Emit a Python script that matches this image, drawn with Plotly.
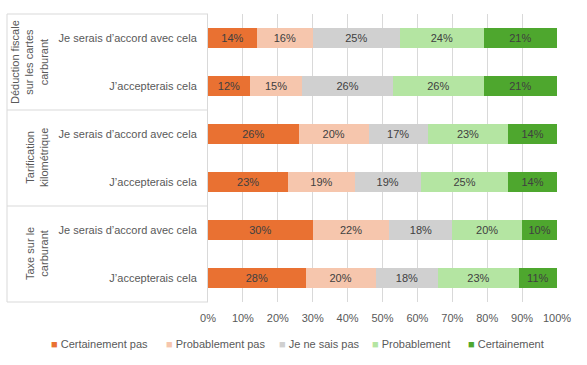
import plotly.graph_objects as go

groups = ["Déduction fiscale<br>sur les cartes<br>carburant", "Tarification<br>kilométrique", "Taxe sur le<br>carburant"]
questions = ["Je serais d’accord avec cela", "J’accepterais cela"]
series = ["Certainement pas", "Probablement pas", "Je ne sais pas", "Probablement", "Certainement"]
colors = ["#E97132", "#F6C6AD", "#D0D0D0", "#B4E5A2", "#4EA72E"]

certainement_pas = [14, 12, 26, 23, 30, 28]
probablement_pas = [16, 15, 20, 19, 22, 20]
ne_sais_pas = [25, 26, 17, 19, 18, 18]
probablement = [24, 26, 23, 25, 20, 23]
certainement = [21, 21, 14, 14, 10, 11]
values = [certainement_pas, probablement_pas, ne_sais_pas, probablement, certainement]

ids = [f"g{g}q{q}" for g in range(len(groups)) for q in range(len(questions))]
ticktext = [questions[q] for g in range(len(groups)) for q in range(len(questions))]

FONT = "Liberation Sans"
TXT = "#595959"
W, H = 587, 365
L, R, T, B = 208, 30, 14, 63
pw = W - L - R

fig = go.Figure()
for name, col, vals in zip(series, colors, values):
    fig.add_trace(go.Bar(
        y=ids, x=vals, name=name, orientation="h",
        marker=dict(color=col, line=dict(width=0)),
        text=[f"{v}%" for v in vals], textposition="inside",
        insidetextanchor="middle",
        textfont=dict(family=FONT, size=11, color="#404040"),
        hoverinfo="skip", showlegend=False,
    ))

# one small legend per entry, placed along a row like the reference;
# the colour swatch is a square glyph right before the label
legend_left_px = [11, 126, 239, 332, 428]
legend_layouts = {}
for i, (name, col) in enumerate(zip(series, colors)):
    key = "legend" if i == 0 else f"legend{i + 1}"
    fig.add_trace(go.Scatter(
        x=[None], y=[None], mode="markers",
        name=f"<span style='color:{col}'>■</span> {name}",
        marker=dict(symbol="square", size=1, color="rgba(0,0,0,0)"),
        hoverinfo="skip", showlegend=True, legend=key,
    ))
    legend_layouts[key] = dict(
        orientation="h", xref="container", yref="container",
        x=legend_left_px[i] / W, xanchor="left",
        y=(H - 344) / H, yanchor="middle",
        font=dict(family=FONT, size=11, color=TXT),
        itemwidth=30, bgcolor="rgba(0,0,0,0)",
    )

def px2x(px):
    return (px - L) / pw

shapes = []
line = dict(color="#D9D9D9", width=1)
for yp in [1, 2/3, 1/3, 0]:
    shapes.append(dict(type="line", xref="paper", yref="paper", x0=px2x(7), x1=0, y0=yp, y1=yp, line=line))
shapes.append(dict(type="line", xref="paper", yref="paper", x0=px2x(7), x1=px2x(7), y0=0, y1=1, line=line))

annotations = []
gx = [px2x(30), px2x(37), px2x(37)]
for i, g in enumerate(groups):
    annotations.append(dict(
        text=g, xref="paper", yref="paper", x=gx[i], y=1 - (i + 0.5) / 3,
        textangle=-90, showarrow=False, xanchor="center", yanchor="middle",
        font=dict(family=FONT, size=11, color=TXT), align="center",
    ))

fig.update_layout(
    barmode="stack", bargap=0.6,
    width=W, height=H,
    margin=dict(l=L, r=R, t=T, b=B, autoexpand=False),
    plot_bgcolor="white", paper_bgcolor="white",
    font=dict(family=FONT, size=11, color=TXT),
    xaxis=dict(range=[0, 100], tickvals=list(range(0, 101, 10)),
               ticktext=[f"{v}%" for v in range(0, 101, 10)],
               showgrid=True, gridcolor="#D9D9D9", gridwidth=1,
               zeroline=False, showline=False, ticks="", ticklabelstandoff=8,
               tickfont=dict(family=FONT, size=11, color=TXT)),
    yaxis=dict(type="category", categoryorder="array", categoryarray=ids,
               tickvals=ids, ticktext=ticktext, autorange="reversed",
               showgrid=False, zeroline=False, showline=True,
               linecolor="#D9D9D9", ticks="", ticklabelstandoff=8,
               tickfont=dict(family=FONT, size=11, color=TXT)),
    shapes=shapes, annotations=annotations,
    **legend_layouts,
)

fig.write_html("out.html", config={"displayModeBar": False},
               post_script="document.body.style.margin='0';")
